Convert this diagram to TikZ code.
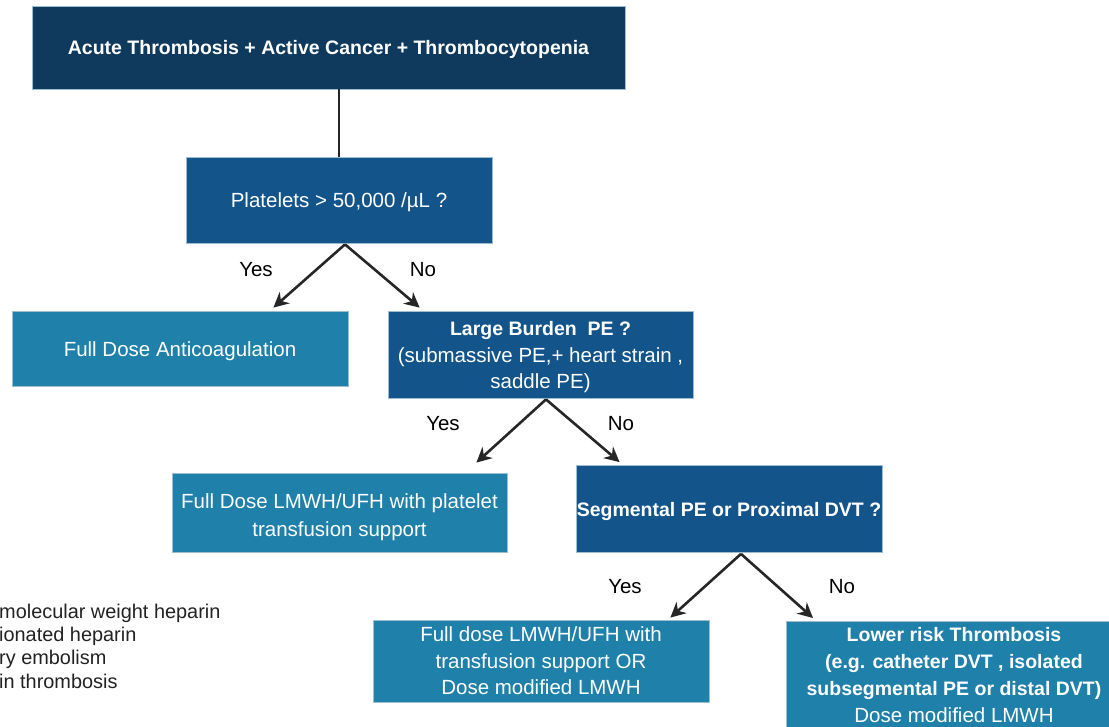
\documentclass[tikz,border=0pt]{standalone}
\usepackage{fontspec}
\setmainfont{Liberation Sans}
\usetikzlibrary{arrows.meta,calc}
\definecolor{navy}{HTML}{0F3A5E}
\definecolor{midblue}{HTML}{13548A}
\definecolor{lightblue}{HTML}{1F80AA}
\definecolor{boxedge}{HTML}{9DBDD3}
\definecolor{arrowgray}{HTML}{262626}
\definecolor{legendgray}{HTML}{222222}
\newcommand{\bodyfont}{\fontsize{20.5}{26.5}\selectfont}
\newcommand{\boldbox}{\fontsize{19.5}{26.5}\selectfont\bfseries}
\newcommand{\lift}[1]{\rule{0pt}{#1pt}}
\tikzset{
  box/.style={rectangle, draw=boxedge, line width=0.8pt, text=white, align=center, inner sep=0pt, font=\bodyfont},
  navybox/.style={box, fill=navy},
  midbox/.style={box, fill=midblue},
  lightbox/.style={box, fill=lightblue},
  flowarrow/.style={draw=arrowgray, line width=2.6pt, -{Stealth[length=15pt,width=15pt]}},
  answer/.style={font=\bodyfont, text=black, inner sep=0pt},
  legendtext/.style={font=\fontsize{19.9}{22.7}\selectfont, text=legendgray, inner sep=0pt, anchor=west, align=left}
}
\begin{document}
\begin{tikzpicture}[x=1pt,y=-1pt]
\useasboundingbox (0,0) rectangle (1109,727);
\begin{scope}
\clip (0,0) rectangle (1109,727);
% boxes
\node[navybox, minimum width=593, minimum height=83] (top) at (328.5,47.5)
  {\boldbox\lift{19}Acute Thrombosis + Active Cancer + Thrombocytopenia};
\node[midbox, minimum width=306, minimum height=86] (plat) at (339,200)
  {\lift{20}Platelets > 50,000 /µL ?};
\node[lightbox, minimum width=336, minimum height=75] (anticoag) at (180,348.5)
  {\lift{20}Full Dose Anticoagulation};
\node[midbox, minimum width=305, minimum height=87] (burden) at (540.5,354.5)
  {{\boldbox\lift{20}Large Burden\ \ PE ?}\\(submassive PE,+ heart strain ,\\saddle PE)};
\node[lightbox, minimum width=335, minimum height=79, font=\fontsize{20.5}{28}\selectfont] (fullplat) at (339.5,512.5)
  {\lift{24}Full Dose LMWH/UFH with platelet\\transfusion support};
\node[midbox, minimum width=306, minimum height=87] (segm) at (729,509)
  {\boldbox\lift{20}Segmental PE or Proximal DVT ?};
\node[lightbox, minimum width=336, minimum height=82] (fulltrans) at (541,661)
  {Full dose LMWH/UFH with\\transfusion support OR\\Dose modified LMWH};
\node[lightbox, minimum width=330, minimum height=130, anchor=north west] (lowrisk) at (786,621) {};
\node[text=white, align=center, inner sep=0pt, font=\fontsize{20.5}{27}\selectfont] (lowrisktext) at (954,675)
  {{\boldbox Lower risk Thrombosis}\\{\boldbox (e.g. catheter DVT , isolated}\\{\boldbox subsegmental PE or distal DVT)}\\Dose modified LMWH};
% connectors
\draw[arrowgray, line width=1.6pt] (top.south -| plat.north) -- (plat.north);
\draw[flowarrow] ($(plat.south)+(6,1)$) -- ($(anticoag.north east)+(-75,-3)$);
\draw[flowarrow] ($(plat.south)+(6,1)$) -- ($(burden.north west)+(32,-3)$);
\draw[flowarrow] ($(burden.south)+(5.5,1)$) -- ($(fullplat.north east)+(-31,-10)$);
\draw[flowarrow] ($(burden.south)+(5.5,1)$) -- ($(segm.north west)+(44,-3)$);
\draw[flowarrow] ($(segm.south)+(12,1)$) -- ($(fulltrans.north east)+(-39,-2)$);
\draw[flowarrow] ($(segm.south)+(12,1)$) -- ($(lowrisk.north west)+(27,-3)$);
% answer labels
\node[answer] (yes1) at (256,270) {Yes};
\node[answer] (no1) at (423,270) {No};
\node[answer] (yes2) at (443,424) {Yes};
\node[answer] (no2) at (621,424) {No};
\node[answer] (yes3) at (625,587) {Yes};
\node[answer] (no3) at (842,587) {No};
% legend (cut off at left edge)
\node[legendtext] (leg1) at (-1,613.5) {molecular weight heparin};
\node[legendtext] (leg2) at (-1,636.5) {ionated heparin};
\node[legendtext] (leg3) at (-1,659.5) {ry embolism};
\node[legendtext] (leg4) at (-1,681.5) {in thrombosis};
\end{scope}
\end{tikzpicture}
\end{document}
